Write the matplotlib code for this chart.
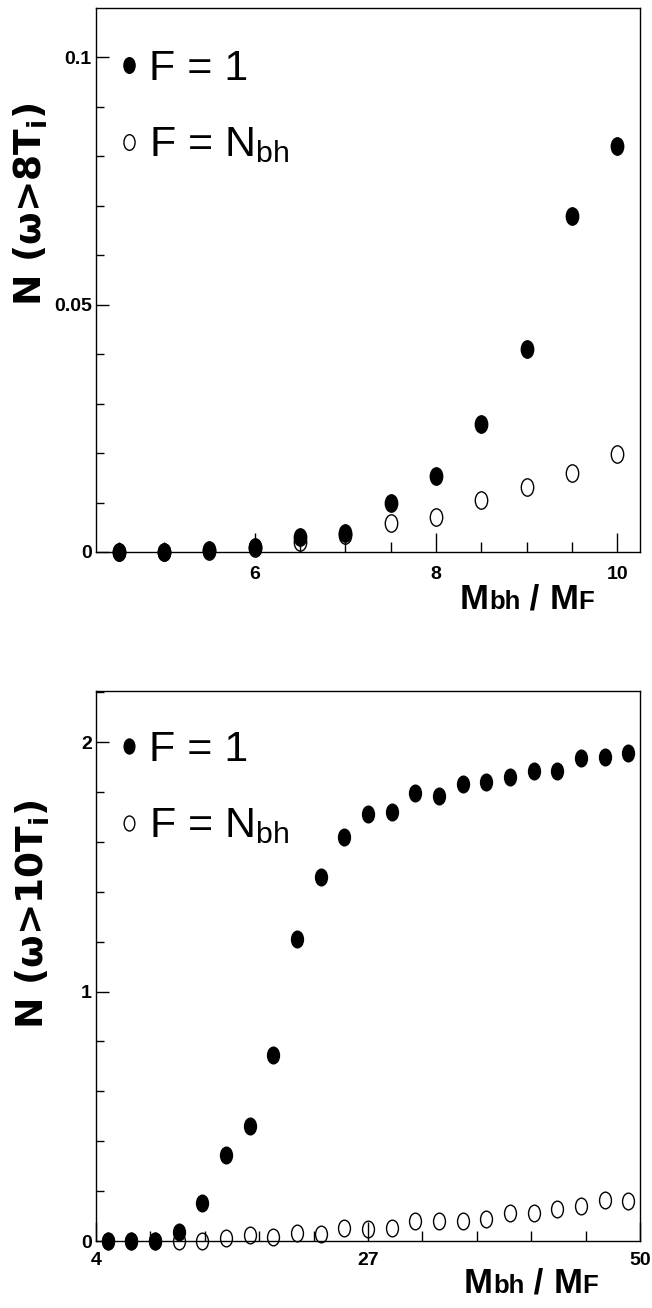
import numpy as np
import matplotlib
matplotlib.use('Agg')
import matplotlib.pyplot as plt
from matplotlib import font_manager
from matplotlib.path import Path
from matplotlib.ticker import MultipleLocator, FixedLocator
from matplotlib.offsetbox import TextArea, HPacker, AnchoredOffsetbox

# ---------------- data ----------------
x_top = [4.5, 5.0, 5.5, 6.0, 6.5, 7.0, 7.5, 8.0, 8.5, 9.0, 9.5, 10.0]
n_top_f1 = [0.0, 0.0, 0.0004, 0.0011, 0.0031, 0.0038, 0.0099, 0.0154,
            0.0258, 0.0410, 0.0678, 0.0821]
n_top_fn = [0.0, 0.0, 0.0003, 0.0008, 0.0021, 0.0034, 0.0058, 0.0071,
            0.0105, 0.0132, 0.0159, 0.0198]

x_bot = [5, 7, 9, 11, 13, 15, 17, 19, 21, 23, 25, 27, 29, 31, 33, 35, 37,
         39, 41, 43, 45, 47, 49]
n_bot_f1 = [0.0, 0.0, 0.0, 0.037, 0.154, 0.344, 0.462, 0.746, 1.209, 1.458,
            1.619, 1.712, 1.721, 1.796, 1.784, 1.831, 1.841, 1.861, 1.883,
            1.886, 1.935, 1.941, 1.958]
n_bot_fn = [0.0, 0.0, 0.0, 0.0, 0.0, 0.013, 0.023, 0.017, 0.033, 0.028,
            0.054, 0.050, 0.054, 0.079, 0.079, 0.082, 0.090, 0.112, 0.112,
            0.127, 0.140, 0.166, 0.159]

top_xticks = [6, 8, 10]
top_yticks = [0, 0.05, 0.1]
top_yticklabels = ['0', '0.05', '0.1']
bot_xticks = [4, 27, 50]
bot_yticks = [0, 1, 2]

labels = ['F = 1', 'F = N$_{\\mathregular{bh}}$']
ylabel_top = 'N (\u03c9>8T$_{\\mathregular{i}}$)'
ylabel_bot = 'N (\u03c9>10T$_{\\mathregular{i}}$)'

# ---------------- fonts ----------------
names = {f.name for f in font_manager.fontManager.ttflist}
narrow = 'Liberation Sans Narrow' in names
base = 'Liberation Sans Narrow' if narrow else 'Liberation Sans'
k = 1.1 if narrow else 1.0
plt.rcParams['font.family'] = [base, 'DejaVu Sans']
plt.rcParams['mathtext.fontset'] = 'custom'
plt.rcParams['mathtext.rm'] = base

W, H = 652, 1308
fig = plt.figure(figsize=(W / 100, H / 100), dpi=100)

def fx(px):
    return px / W

def fy(py):
    return 1 - py / H

# elliptical marker (picture is stretched vertically)
circ = Path.unit_circle()
ell = Path(circ.vertices * np.array([1.0, 1.4]), circ.codes)

tick_fs = 14 * k
leg_fs = 31 * k

def style_axes(ax):
    for s in ax.spines.values():
        s.set_linewidth(1.0)
        s.set_color('black')
    ax.tick_params(axis='both', which='both', direction='in',
                   top=False, right=False, width=1.0, colors='black')
    ax.tick_params(axis='x', which='major', length=13.5, pad=10)
    ax.tick_params(axis='x', which='minor', length=7)
    ax.tick_params(axis='y', which='major', length=9.5, pad=3)
    ax.tick_params(axis='y', which='minor', length=5.5)
    for lab in ax.get_xticklabels() + ax.get_yticklabels():
        lab.set_fontsize(tick_fs)
        lab.set_fontweight('bold')

def xlabel(x_px, base_px):
    big = dict(fontsize=25 * k, fontweight='bold', color='black')
    small = dict(fontsize=18.5 * k, fontweight='bold', color='black')
    parts = [TextArea('M', textprops=big), TextArea('bh', textprops=small),
             TextArea(' / ', textprops=big), TextArea('M', textprops=big),
             TextArea('F', textprops=small)]
    pack = HPacker(children=parts, align='baseline', pad=0, sep=0)
    box = AnchoredOffsetbox(loc='lower left', child=pack, pad=0, borderpad=0,
                            frameon=False,
                            bbox_to_anchor=(fx(x_px), fy(base_px)),
                            bbox_transform=fig.transFigure)
    fig.add_artist(box)

def legend(ax, handles, top_px):
    ax.legend(handles, labels, loc='upper left',
              bbox_to_anchor=(fx(117), fy(top_px)),
              bbox_transform=fig.transFigure,
              frameon=False, prop={'size': leg_fs}, handlelength=0.55,
              handletextpad=0.2, labelspacing=0.85, borderpad=0,
              borderaxespad=0, markerscale=0.9)

# ---------------- top panel ----------------
ax1 = fig.add_axes([fx(96), fy(552), fx(640) - fx(96), fy(8) - fy(552)])
l1, = ax1.plot(x_top, n_top_f1, linestyle='none', marker=ell, markersize=12.5,
               color='black', clip_on=False, zorder=3)
l2, = ax1.plot(x_top, n_top_fn, linestyle='none', marker=ell, markersize=12.5,
               markerfacecolor='none', markeredgecolor='black',
               markeredgewidth=1.0, clip_on=False, zorder=3)
ax1.set_xlim(4.25, 10.25)
ax1.set_ylim(0, 0.1099)
ax1.set_xticks(top_xticks)
ax1.set_xticklabels([str(v) for v in top_xticks])
ax1.xaxis.set_minor_locator(MultipleLocator(0.5))
ax1.set_yticks(top_yticks)
ax1.set_yticklabels(top_yticklabels)
ax1.yaxis.set_minor_locator(MultipleLocator(0.01))
style_axes(ax1)
legend(ax1, [l1, l2], 49)
fig.text(fx(31), fy(204), ylabel_top, rotation=90, ha='center', va='center',
         fontsize=27, fontweight='bold', family=['DejaVu Sans'])
xlabel(460, 616)

# ---------------- bottom panel ----------------
ax2 = fig.add_axes([fx(96), fy(1241), fx(640) - fx(96), fy(691) - fy(1241)])
m1, = ax2.plot(x_bot, n_bot_f1, linestyle='none', marker=ell, markersize=12,
               color='black', clip_on=False, zorder=3)
m2, = ax2.plot(x_bot, n_bot_fn, linestyle='none', marker=ell, markersize=12,
               markerfacecolor='none', markeredgecolor='black',
               markeredgewidth=1.0, clip_on=False, zorder=3)
ax2.set_xlim(4, 50)
ax2.set_ylim(0, 2.205)
ax2.set_xticks(bot_xticks)
ax2.set_xticklabels([str(v) for v in bot_xticks])
ax2.xaxis.set_minor_locator(FixedLocator(np.linspace(4, 50, 11)))
ax2.set_yticks(bot_yticks)
ax2.set_yticklabels([str(v) for v in bot_yticks])
ax2.yaxis.set_minor_locator(MultipleLocator(0.2))
style_axes(ax2)
ax2.tick_params(axis='x', which='major', pad=8)
legend(ax2, [m1, m2], 730)
fig.text(fx(33), fy(914), ylabel_bot, rotation=90, ha='center', va='center',
         fontsize=27, fontweight='bold', family=['DejaVu Sans'])
xlabel(464, 1300)

fig.savefig('out.png', dpi=100)
